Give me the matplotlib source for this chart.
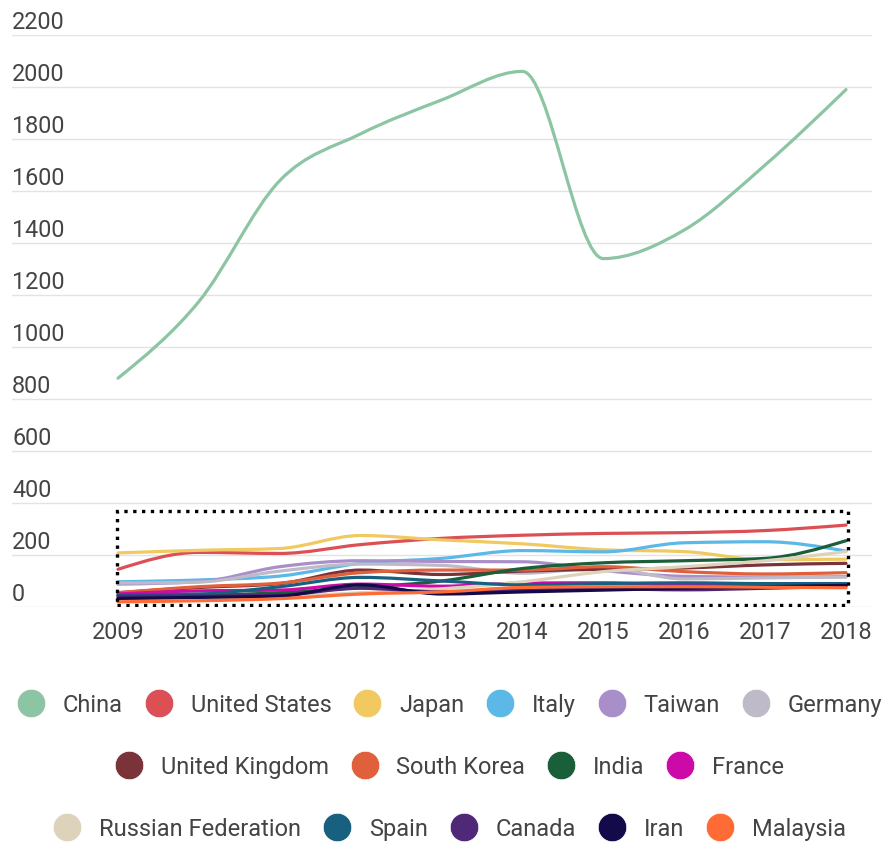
import matplotlib
matplotlib.use("Agg")
import matplotlib.pyplot as plt
from matplotlib.path import Path
from matplotlib.patches import PathPatch, Rectangle
from matplotlib.lines import Line2D
import numpy as np

plt.rcParams['font.family'] = ['Roboto', 'DejaVu Sans']

# Datos
years = [2009, 2010, 2011, 2012, 2013, 2014, 2015, 2016, 2017, 2018]

china = [880, 1175, 1640, 1820, 1950, 2060, 1340, 1450, 1700, 1990]
united_states = [145, 210, 206, 240, 264, 276, 283, 286, 294, 315]
japan = [208, 218, 225, 275, 258, 243, 220, 213, 182, 184]
italy = [97, 104, 119, 168, 187, 217, 212, 247, 251, 215]
taiwan = [88, 97, 155, 178, 175, 174, 140, 118, 115, 117]
germany = [92, 96, 138, 165, 160, 130, 150, 108, 112, 115]
united_kingdom = [55, 75, 90, 142, 125, 138, 145, 150, 162, 168]
south_korea = [55, 78, 92, 132, 142, 142, 155, 136, 127, 132]
india = [40, 45, 55, 75, 100, 148, 170, 178, 187, 255]
france = [50, 62, 65, 88, 80, 92, 93, 85, 85, 87]
russia = [30, 35, 40, 55, 70, 97, 136, 155, 178, 213]
spain = [46, 50, 78, 114, 100, 85, 90, 93, 90, 90]
canada = [42, 42, 46, 72, 58, 65, 70, 66, 72, 80]
iran = [33, 37, 42, 85, 50, 58, 65, 72, 78, 83]
malaysia = [20, 24, 32, 50, 58, 75, 78, 78, 76, 74]

names = ['China', 'United States', 'Japan', 'Italy', 'Taiwan', 'Germany',
         'United Kingdom', 'South Korea', 'India', 'France',
         'Russian Federation', 'Spain', 'Canada', 'Iran', 'Malaysia']
series = [china, united_states, japan, italy, taiwan, germany,
          united_kingdom, south_korea, india, france,
          russia, spain, canada, iran, malaysia]
colors = ['#8cc5a3', '#dc5055', '#f0c960', '#5cb8e6', '#a98fca', '#bebac8',
          '#7a3338', '#e0603c', '#1a5e3a', '#cc0aa8',
          '#ddd3bb', '#17607f', '#4f2878', '#130a4a', '#ff6b35']

yticks = [0, 200, 400, 600, 800, 1000, 1200, 1400, 1600, 1800, 2000, 2200]
text_color = '#444444'


def monotone_path(x, y):
    # curva tipo "monotoneX": segmentos Bezier cúbicos entre los puntos
    x = np.asarray(x, float)
    y = np.asarray(y, float)
    h = np.diff(x)
    s = np.diff(y) / h
    m = np.zeros_like(y)
    for i in range(1, len(y) - 1):
        if s[i - 1] * s[i] <= 0:
            m[i] = 0
        else:
            p = (s[i - 1] * h[i] + s[i] * h[i - 1]) / (h[i - 1] + h[i])
            m[i] = np.sign(s[i - 1]) * min(abs(s[i - 1]), abs(s[i]), 0.5 * abs(p)) * 2
    m[0] = (3 * s[0] - m[1]) / 2 if len(y) > 2 else s[0]
    m[-1] = (3 * s[-1] - m[-2]) / 2 if len(y) > 2 else s[-1]
    verts = [(x[0], y[0])]
    codes = [Path.MOVETO]
    for i in range(len(x) - 1):
        d = h[i] / 3
        verts += [(x[i] + d, y[i] + m[i] * d), (x[i + 1] - d, y[i + 1] - m[i + 1] * d), (x[i + 1], y[i + 1])]
        codes += [Path.CURVE4] * 3
    return Path(verts, codes)


fig = plt.figure(figsize=(8.81, 8.46), dpi=100)
ax = fig.add_axes([12 / 881, 1 - 607 / 846, 860 / 881, (607 - 35) / 846])

x_left = 2009 - (118 - 12) / ((846 - 118) / 9)
ax.set_xlim(x_left, x_left + 860 / ((846 - 118) / 9))
ax.set_ylim(0, 2200)

for v in yticks:
    ax.axhline(v, color='#e3e3e3', linewidth=1, zorder=0)
    ax.annotate(str(v), xy=(0, v), xycoords=ax.get_yaxis_transform(),
                xytext=(0, 4), textcoords='offset points',
                ha='left', va='baseline', fontsize=16.8, color=text_color)

for vals, col in zip(series, colors):
    ax.add_patch(PathPatch(monotone_path(years, vals), facecolor='none',
                           edgecolor=col, linewidth=2.3, capstyle='round'))

# recuadro punteado alrededor de los países pequeños
ax.add_patch(Rectangle((2008.99, 6), 9.04, 364, fill=False, edgecolor='black',
                       linestyle=':', linewidth=2.4, zorder=5))

ax.set_xticks(years)
ax.set_xticklabels([str(y) for y in years], fontsize=16.8, color=text_color)
ax.set_yticks([])
ax.tick_params(axis='x', length=0, pad=10)
for sp in ax.spines.values():
    sp.set_visible(False)

# leyenda en tres filas
rows = [(0, 6, 1 - 705 / 846), (6, 10, 1 - 767 / 846), (10, 15, 1 - 829 / 846)]
for a, b, yy in rows:
    handles = [Line2D([], [], linestyle='none', marker='o', markersize=20.5,
                      markerfacecolor=colors[i], markeredgecolor='white',
                      markeredgewidth=0.5) for i in range(a, b)]
    fig.legend(handles, names[a:b], loc='center', bbox_to_anchor=(0.5 + 9 / 881, yy),
               ncol=b - a, frameon=False, fontsize=17, labelcolor=text_color,
               handlelength=1.2, handletextpad=0.75, columnspacing=0.92,
               borderpad=0, borderaxespad=0)

plt.savefig('out.png', dpi=100)
